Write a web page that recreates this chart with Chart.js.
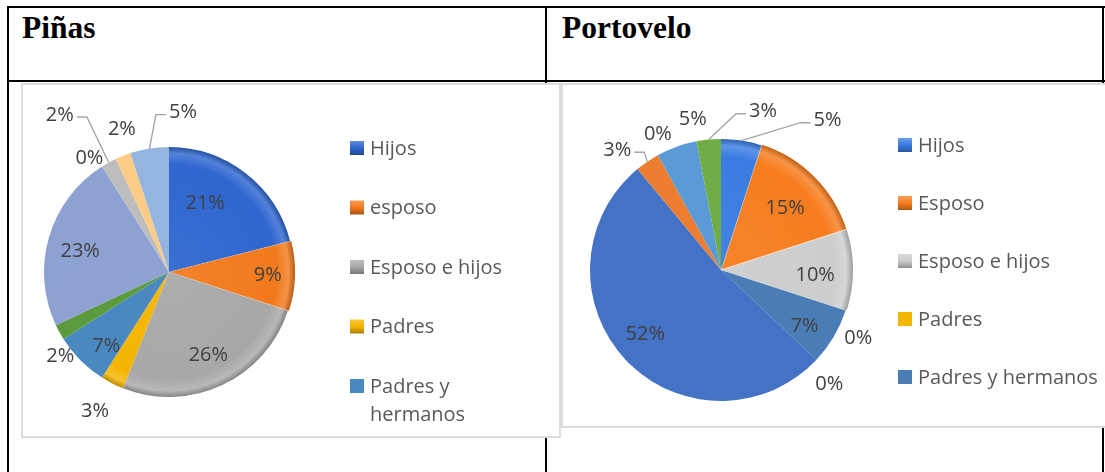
<!DOCTYPE html>
<html>
<head>
<meta charset="utf-8">
<script src="https://cdn.jsdelivr.net/npm/chart.js@4.4.1/dist/chart.umd.min.js"></script>
<style>
body{margin:0;background:#fff;width:1105px;height:472px;overflow:hidden;position:relative}
.ln{position:absolute;background:#000}
.hd{position:absolute;top:12px;font:bold 31.5px/31px "Liberation Serif",serif;color:#000}
.box{position:absolute;background:#fff;border:2px solid #dcdcdc;box-sizing:border-box}
canvas{position:absolute;display:block}
</style>
</head>
<body>
<!-- table lines -->
<div class="ln" style="left:7px;top:6px;width:1098px;height:2px"></div>
<div class="ln" style="left:7px;top:80px;width:1098px;height:2px"></div>
<div class="ln" style="left:7px;top:6px;width:2px;height:466px"></div>
<div class="ln" style="left:545px;top:6px;width:2px;height:466px"></div>
<div class="ln" style="left:1102px;top:6px;width:2px;height:466px"></div>
<div class="hd" style="left:22px">Piñas</div>
<div class="hd" style="left:562px">Portovelo</div>
<div class="box" style="left:21px;top:83px;width:540px;height:355px"></div>
<div class="box" style="left:561px;top:83px;width:548px;height:345px"></div>
<canvas id="pinas" width="539" height="354" style="left:21px;top:83px"></canvas>
<canvas id="portovelo" width="544" height="344" style="left:561px;top:83px"></canvas>
<script>
// datos
const legendNames = ["Hijos", "esposo", "Esposo e hijos", "Padres", "Padres y hermanos"];
const legendNamesPorto = ["Hijos", "Esposo", "Esposo e hijos", "Padres", "Padres y hermanos"];
const otherNames = ["Otro 6", "Otro 7", "Otro 8", "Otro 9", "Otro 10", "Otro 11"];
const pinasValues = [21, 9, 26, 3, 7, 2, 23, 0, 2, 2, 5];
const portoValues = [5, 15, 10, 0, 7, 0, 52, 3, 0, 5, 3];

// colores
const pinasColors = ["#2f66cf", "#f27a1d", "#a8a8a8", "#f4b500", "#4a88c2", "#5b9b3d", "#8ea1d3", "#bdbdbd", "#bdbdbd", "#fdcd88", "#93b5df"];
const portoColors = ["#3a7ce2", "#f77d1e", "#cdcdcd", "#f4b500", "#4a7db6", "#70ad47", "#4472c4", "#ed7d31", "#a5a5a5", "#5b9bd5", "#70ad47"];

// [radio relativo, desfase angular (grados), linea guia]
const pinasPlace = [[0.62,-10,0],[0.79,0,0],[0.74,0,0],[1.26,1,0],[0.78,-5,0],[1.1,-9,0],[0.73,-3,0],[1.11,-2.6,0],[1.53,-6,1],[1.2,3.3,0],[1.28,14,1]];
const portoPlace = [[1.4,26.5,1],[0.68,1,0],[0.72,3,0],[1.17,8.4,0],[0.77,3.4,0],[1.2,3.3,0],[0.76,2.7,0],[1.21,-6.7,1],[1.14,3.8,0],[1.17,9.2,0],[1.25,20.3,1]];

function shade(hex, amt){
  let n = parseInt(hex.slice(1),16);
  let c = [n>>16, (n>>8)&255, n&255].map(v => amt>0 ? Math.round(v+(255-v)*amt) : Math.round(v*(1+amt)));
  return "rgb("+c.join(",")+")";
}

function bevel(chart, color, r){
  const a = chart.chartArea;
  if(!a) return color;
  const cx = (a.left+a.right)/2, cy = (a.top+a.bottom)/2;
  const g = chart.ctx.createRadialGradient(cx,cy,0,cx,cy,r);
  g.addColorStop(0, shade(color, 0.06));
  g.addColorStop(0.86, color);
  g.addColorStop(0.95, shade(color, 0.18));
  g.addColorStop(1, shade(color, -0.22));
  return g;
}

const pieLabels = {
  id: "pieLabels",
  afterDatasetsDraw(chart, args, opts){
    const ctx = chart.ctx;
    const meta = chart.getDatasetMeta(0);
    const values = chart.data.datasets[0].data;
    ctx.save();
    ctx.font = '20px "Open Sans"';
    ctx.textAlign = "center";
    ctx.textBaseline = "middle";
    meta.data.forEach((arc, i) => {
      const p = arc.getProps(["x","y","startAngle","endAngle","outerRadius"], true);
      const pl = opts.place[i];
      const mid = (p.startAngle+p.endAngle)/2;
      const a = mid + pl[1]*Math.PI/180;
      const lx = p.x + Math.cos(a)*opts.radius*pl[0];
      const ly = p.y + Math.sin(a)*opts.radius*pl[0];
      const txt = Math.round(values[i]) + "%";
      if(pl[2]){
        const ex = p.x + Math.cos(mid)*opts.radius;
        const ey = p.y + Math.sin(mid)*opts.radius;
        const w = ctx.measureText(txt).width;
        const dir = lx > ex ? -1 : 1;
        const sx = lx + dir*(w/2+3);
        ctx.beginPath();
        ctx.moveTo(sx, ly+2);
        ctx.lineTo(sx+dir*10, ly+2);
        ctx.lineTo(ex, ey);
        ctx.strokeStyle = "#a6a6a6";
        ctx.lineWidth = 1.4;
        ctx.stroke();
      }
      ctx.fillStyle = "#404040";
      ctx.fillText(txt, lx, ly);
    });
    ctx.restore();
  }
};

const sideLegend = {
  id: "sideLegend",
  afterDraw(chart, args, opts){
    const ctx = chart.ctx;
    ctx.save();
    ctx.font = '20px "Open Sans"';
    ctx.textBaseline = "middle";
    opts.names.forEach((name, i) => {
      const y = opts.y0 + i*opts.step;
      const col = opts.colors[i];
      if(i < opts.bevelCount){
        const g = ctx.createLinearGradient(0, y-7, 0, y+7);
        g.addColorStop(0, shade(col, 0.25));
        g.addColorStop(0.5, col);
        g.addColorStop(1, shade(col, -0.3));
        ctx.fillStyle = g;
      } else ctx.fillStyle = col;
      ctx.fillRect(opts.boxX, y-7, 14, 14);
      ctx.fillStyle = "#595959";
      // ajuste de lineas
      let words = name.split(" "), lines = [], cur = "";
      words.forEach(wd => {
        const t = cur ? cur+" "+wd : wd;
        if(ctx.measureText(t).width > opts.maxW && cur){ lines.push(cur); cur = wd; }
        else cur = t;
      });
      lines.push(cur);
      lines.forEach((ln, k) => ctx.fillText(ln, opts.textX, y+1+k*28));
    });
    ctx.restore();
  }
};

function makePie(id, names, values, colors, bevelCount, offsets, radius, padding, place, legend){
  return new Chart(document.getElementById(id), {
    type: "pie",
    data: {
      labels: names.concat(otherNames),
      datasets: [{
        data: values,
        backgroundColor: (c) => bevelCount > c.dataIndex ? bevel(c.chart, colors[c.dataIndex], radius) : colors[c.dataIndex],
        borderWidth: 0,
        offset: offsets,
        radius: radius
      }]
    },
    options: {
      responsive: false,
      animation: false,
      layout: {padding: padding},
      plugins: {
        legend: {display: false},
        tooltip: {enabled: false},
        pieLabels: {place: place, radius: radius},
        sideLegend: Object.assign({names: names, colors: colors, bevelCount: bevelCount}, legend)
      }
    },
    plugins: [pieLabels, sideLegend]
  });
}

makePie("pinas", legendNames, pinasValues, pinasColors, 4,
  [0,3,0,0,0,0,0,0,0,0,0], 125, {left:0, top:24, right:243, bottom:0},
  pinasPlace, {boxX:329, textX:349, y0:65, step:59.5, maxW:165});

makePie("portovelo", legendNamesPorto, portoValues, portoColors, 3,
  [0,3,3,0,0,0,0,0,0,0,0], 131, {left:0, top:30, right:224, bottom:0},
  portoPlace, {boxX:337, textX:357, y0:62, step:58, maxW:400});
</script>
</body>
</html>
